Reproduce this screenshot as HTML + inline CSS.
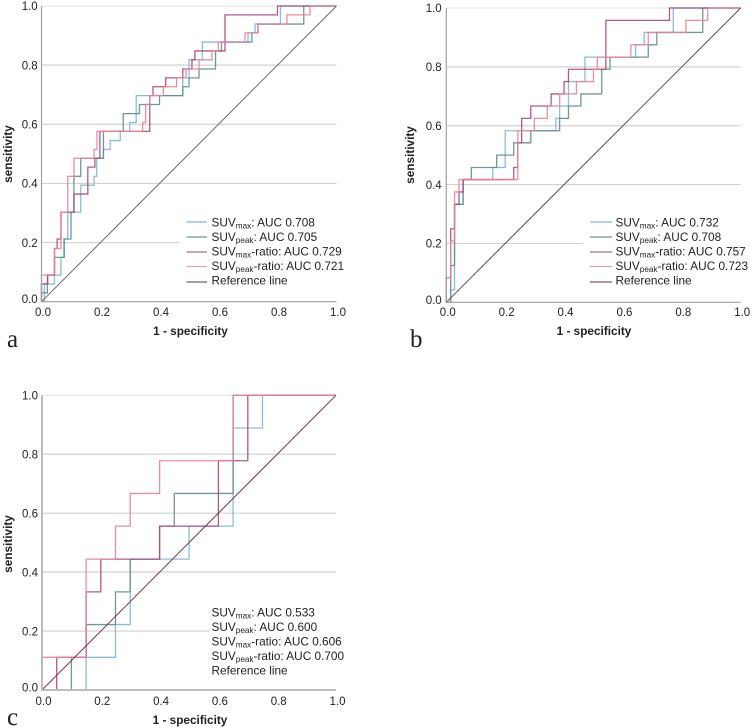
<!DOCTYPE html>
<html lang="en">
<head>
<meta charset="utf-8">
<title>ROC curves</title>
<style>
html,body{margin:0;padding:0;background:#fff}
svg{display:block;font-family:"Liberation Sans",sans-serif;filter:blur(0.3px)}
text{fill:#222}
</style>
</head>
<body>
<svg id="chart" width="752" height="728" viewBox="0 0 752 728" xmlns="http://www.w3.org/2000/svg">
  <rect width="752" height="728" fill="#fff"/>
  <g id="marks"></g>
  <g>
    <text x="7" y="347" font-family="Liberation Serif" font-size="25">a</text>
    <text transform="translate(12,154) rotate(-90)" text-anchor="middle" font-size="11.8" font-weight="bold">sensitivity</text>
    <text x="190.5" y="335" text-anchor="middle" font-size="11.8" font-weight="bold">1 - specificity</text>
    <g font-size="11.8">
      <line x1="186.5" x2="207" y1="222" y2="222" stroke="#85b8d8" stroke-width="1.2"/>
      <line x1="186.5" x2="207" y1="237" y2="237" stroke="#6f9494" stroke-width="1.2"/>
      <line x1="186.5" x2="207" y1="252" y2="252" stroke="#a5708e" stroke-width="1.2"/>
      <line x1="186.5" x2="207" y1="266.5" y2="266.5" stroke="#d8a2b2" stroke-width="1.2"/>
      <line x1="186.5" x2="207" y1="282" y2="282" stroke="#7d5a6c" stroke-width="1.2"/>
      <text x="211.5" y="226.5">SUV<tspan font-size="8.2" dy="2">max</tspan><tspan dy="-2">: AUC 0.708</tspan></text>
      <text x="211.5" y="241">SUV<tspan font-size="8.2" dy="2">peak</tspan><tspan dy="-2">: AUC 0.705</tspan></text>
      <text x="211.5" y="255.5">SUV<tspan font-size="8.2" dy="2">max</tspan><tspan dy="-2">-ratio: AUC 0.729</tspan></text>
      <text x="211.5" y="270">SUV<tspan font-size="8.2" dy="2">peak</tspan><tspan dy="-2">-ratio: AUC 0.721</tspan></text>
      <text x="211.5" y="284.5">Reference line</text>
    </g>
  </g>
  <g>
    <text x="410" y="347" font-family="Liberation Serif" font-size="25">b</text>
    <text transform="translate(414,155) rotate(-90)" text-anchor="middle" font-size="11.8" font-weight="bold">sensitivity</text>
    <text x="594" y="335" text-anchor="middle" font-size="11.8" font-weight="bold">1 - specificity</text>
    <g font-size="11.8">
      <line x1="590" x2="612" y1="222" y2="222" stroke="#85b8d8" stroke-width="1.2"/>
      <line x1="590" x2="612" y1="237" y2="237" stroke="#6f9494" stroke-width="1.2"/>
      <line x1="590" x2="612" y1="252" y2="252" stroke="#a5708e" stroke-width="1.2"/>
      <line x1="590" x2="612" y1="266.5" y2="266.5" stroke="#d8a2b2" stroke-width="1.2"/>
      <line x1="590" x2="612" y1="282" y2="282" stroke="#7d5a6c" stroke-width="1.2"/>
      <text x="615.5" y="226.5">SUV<tspan font-size="8.2" dy="2">max</tspan><tspan dy="-2">: AUC 0.732</tspan></text>
      <text x="615.5" y="241">SUV<tspan font-size="8.2" dy="2">peak</tspan><tspan dy="-2">: AUC 0.708</tspan></text>
      <text x="615.5" y="255.5">SUV<tspan font-size="8.2" dy="2">max</tspan><tspan dy="-2">-ratio: AUC 0.757</tspan></text>
      <text x="615.5" y="270">SUV<tspan font-size="8.2" dy="2">peak</tspan><tspan dy="-2">-ratio: AUC 0.723</tspan></text>
      <text x="615.5" y="284.5">Reference line</text>
    </g>
  </g>
  <g>
    <text x="7" y="725" font-family="Liberation Serif" font-size="25">c</text>
    <text transform="translate(12,544) rotate(-90)" text-anchor="middle" font-size="11.8" font-weight="bold">sensitivity</text>
    <text x="190" y="724" text-anchor="middle" font-size="11.8" font-weight="bold">1 - specificity</text>
    <g font-size="11.8">
      <text x="211.5" y="616.5">SUV<tspan font-size="8.2" dy="2">max</tspan><tspan dy="-2">: AUC 0.533</tspan></text>
      <text x="211.5" y="631">SUV<tspan font-size="8.2" dy="2">peak</tspan><tspan dy="-2">: AUC 0.600</tspan></text>
      <text x="211.5" y="645.5">SUV<tspan font-size="8.2" dy="2">max</tspan><tspan dy="-2">-ratio: AUC 0.606</tspan></text>
      <text x="211.5" y="660">SUV<tspan font-size="8.2" dy="2">peak</tspan><tspan dy="-2">-ratio: AUC 0.700</tspan></text>
      <text x="211.5" y="674.5">Reference line</text>
    </g>
  </g>
</svg>
<script>
// Tick labels shared by both axes
var tickValues = [0, 0.2, 0.4, 0.6, 0.8, 1.0];
var tickLabels = ['0.0', '0.2', '0.4', '0.6', '0.8', '1.0'];

// Panel a: each series lists the specificity where the curve rises and the sensitivity it rises to
var aMaxFpr = [0.01, 0.044, 0.066, 0.076, 0.089, 0.133, 0.178, 0.187, 0.21, 0.233, 0.267, 0.299, 0.321, 0.479, 0.5, 0.545, 0.7, 0.724, 0.81];
var aMaxTpr = [0.06, 0.09, 0.15, 0.212, 0.303, 0.394, 0.424, 0.485, 0.515, 0.545, 0.576, 0.606, 0.697, 0.757, 0.818, 0.878, 0.909, 0.939, 1.0];
var aPeakFpr = [0, 0.02, 0.044, 0.077, 0.1, 0.11, 0.133, 0.21, 0.277, 0.332, 0.4, 0.479, 0.5, 0.534, 0.59, 0.61, 0.713, 0.734, 0.889];
var aPeakTpr = [0.03, 0.09, 0.15, 0.212, 0.303, 0.424, 0.485, 0.576, 0.636, 0.667, 0.697, 0.727, 0.757, 0.787, 0.848, 0.878, 0.909, 0.939, 1.0];
var aMaxRatioFpr = [0, 0.021, 0.044, 0.053, 0.066, 0.11, 0.157, 0.181, 0.198, 0.367, 0.378, 0.421, 0.479, 0.51, 0.52, 0.622, 0.8];
var aMaxRatioTpr = [0.06, 0.09, 0.18, 0.212, 0.303, 0.364, 0.455, 0.485, 0.576, 0.697, 0.727, 0.757, 0.787, 0.818, 0.848, 0.97, 1.0];
var aPeakRatioFpr = [0, 0.044, 0.066, 0.089, 0.11, 0.178, 0.188, 0.343, 0.353, 0.367, 0.413, 0.458, 0.49, 0.534, 0.578, 0.599, 0.69, 0.734, 0.832, 0.91];
var aPeakRatioTpr = [0.09, 0.18, 0.303, 0.424, 0.485, 0.515, 0.576, 0.606, 0.667, 0.697, 0.727, 0.757, 0.787, 0.818, 0.848, 0.878, 0.909, 0.939, 0.97, 1.0];

// Panel b
var bMaxFpr = [0.015, 0.028, 0.057, 0.158, 0.2, 0.372, 0.385, 0.415, 0.471, 0.643, 0.672, 0.771];
var bMaxTpr = [0.042, 0.333, 0.417, 0.458, 0.583, 0.625, 0.667, 0.75, 0.833, 0.875, 0.917, 1.0];
var bPeakFpr = [0.015, 0.028, 0.057, 0.085, 0.171, 0.229, 0.287, 0.385, 0.415, 0.457, 0.528, 0.556, 0.686, 0.715, 0.871];
var bPeakTpr = [0.125, 0.333, 0.417, 0.458, 0.5, 0.542, 0.583, 0.625, 0.667, 0.708, 0.792, 0.833, 0.875, 0.917, 1.0];
var bMaxRatioFpr = [0, 0.015, 0.028, 0.043, 0.057, 0.229, 0.243, 0.256, 0.287, 0.356, 0.4, 0.415, 0.542, 0.758];
var bMaxRatioTpr = [0.083, 0.25, 0.333, 0.375, 0.417, 0.458, 0.542, 0.625, 0.667, 0.708, 0.75, 0.792, 0.958, 1.0];
var bPeakRatioFpr = [0, 0.015, 0.028, 0.043, 0.243, 0.299, 0.343, 0.385, 0.442, 0.5, 0.513, 0.627, 0.686, 0.814, 0.888];
var bPeakRatioTpr = [0.083, 0.208, 0.375, 0.417, 0.583, 0.625, 0.667, 0.708, 0.75, 0.792, 0.833, 0.875, 0.917, 0.958, 1.0];

// Panel c
var cMaxFpr = [0.15, 0.25, 0.3, 0.5, 0.65, 0.75];
var cMaxTpr = [0.111, 0.222, 0.444, 0.556, 0.889, 1.0];
var cPeakFpr = [0.1, 0.15, 0.25, 0.3, 0.4, 0.45, 0.65];
var cPeakTpr = [0.111, 0.222, 0.333, 0.444, 0.556, 0.667, 1.0];
var cMaxRatioFpr = [0.05, 0.15, 0.2, 0.4, 0.6, 0.7];
var cMaxRatioTpr = [0.111, 0.333, 0.444, 0.556, 0.778, 1.0];
var cPeakRatioFpr = [0, 0.15, 0.25, 0.3, 0.4, 0.65];
var cPeakRatioTpr = [0.111, 0.444, 0.556, 0.667, 0.778, 1.0];

var NS = 'http://www.w3.org/2000/svg';
var marks = document.getElementById('marks');

function make(tag, parent) {
  var el = document.createElementNS(NS, tag);
  parent.appendChild(el);
  return el;
}

function drawPanel(id, box, labelBox, grid02End, axisColor, axisWidth, refColor, series) {
  function sx(v) { return box.x0 + v * (box.x1 - box.x0); }
  function sy(v) { return box.y0 + v * (box.y1 - box.y0); }
  var g = make('g', marks);
  
  

  tickValues.forEach(function (t, i) {
    if (t > 0) {
      var gl = make('line', g);
      
      
      gl.setAttribute('x1', sx(0));
      gl.setAttribute('x2', t === 0.2 ? grid02End : sx(1));
      gl.setAttribute('y1', sy(t));
      gl.setAttribute('y2', sy(t));
      gl.setAttribute('stroke', t === 1 ? '#e6e6e6' : '#d2d2d2');
      gl.setAttribute('stroke-width', '1.2');
    }
    var yl = make('text', g);
    
    
    yl.setAttribute('x', labelBox.yRight);
    yl.setAttribute('y', sy(t) + (t === 0 ? 1.5 : 4.2));
    yl.setAttribute('text-anchor', 'end');
    yl.setAttribute('font-size', '11.5');
    yl.textContent = tickLabels[i];

    var xl = make('text', g);
    
    
    xl.setAttribute('x', sx(t) + 1.5);
    xl.setAttribute('y', labelBox.xBase);
    xl.setAttribute('text-anchor', 'middle');
    xl.setAttribute('font-size', '11.5');
    xl.textContent = tickLabels[i];
  });

  series.forEach(function (s) {
    var d = 'M' + sx(0) + ' ' + sy(0);
    var prev = 0;
    s.fpr.forEach(function (f, i) {
      d += 'L' + sx(f) + ' ' + sy(prev) + 'L' + sx(f) + ' ' + sy(s.tpr[i]);
      prev = s.tpr[i];
    });
    d += 'L' + sx(1) + ' ' + sy(prev);
    var p = make('path', g);
    
    
    p.setAttribute('d', d);
    p.setAttribute('fill', 'none');
    p.setAttribute('stroke', s.color);
    p.setAttribute('stroke-width', '1.3');
    p.setAttribute('stroke-opacity', '0.9');
  });

  var ref = make('line', g);
  
  
  ref.setAttribute('x1', sx(0));
  ref.setAttribute('y1', sy(0));
  ref.setAttribute('x2', sx(1));
  ref.setAttribute('y2', sy(1));
  ref.setAttribute('stroke', refColor);
  ref.setAttribute('stroke-width', '1');

  var ax = make('path', g);
  
  
  ax.setAttribute('d', 'M' + sx(0) + ' ' + sy(1) + 'L' + sx(0) + ' ' + sy(0) + 'L' + sx(1) + ' ' + sy(0));
  ax.setAttribute('fill', 'none');
  ax.setAttribute('stroke', axisColor);
  ax.setAttribute('stroke-width', axisWidth);
}

var BLUE = '#7db5da', GREEN = '#5f8e8b', PURPLE = '#a5497a', PINK = '#e88398';

drawPanel('a', { x0: 41.5, x1: 336.5, y0: 301.7, y1: 6 }, { yRight: 37.7, xBase: 316 }, 180, '#a0a0a0', 1.2, '#6a6a6a', [
  { name: 'suv-max', color: BLUE, fpr: aMaxFpr, tpr: aMaxTpr },
  { name: 'suv-peak', color: GREEN, fpr: aPeakFpr, tpr: aPeakTpr },
  { name: 'suv-max-ratio', color: PURPLE, fpr: aMaxRatioFpr, tpr: aMaxRatioTpr },
  { name: 'suv-peak-ratio', color: PINK, fpr: aPeakRatioFpr, tpr: aPeakRatioTpr }
]);
drawPanel('b', { x0: 446.3, x1: 740.7, y0: 302.3, y1: 8 }, { yRight: 441.7, xBase: 316 }, 583, '#a0a0a0', 1.2, '#555555', [
  { name: 'suv-max', color: BLUE, fpr: bMaxFpr, tpr: bMaxTpr },
  { name: 'suv-peak', color: GREEN, fpr: bPeakFpr, tpr: bPeakTpr },
  { name: 'suv-max-ratio', color: PURPLE, fpr: bMaxRatioFpr, tpr: bMaxRatioTpr },
  { name: 'suv-peak-ratio', color: PINK, fpr: bPeakRatioFpr, tpr: bPeakRatioTpr }
]);
drawPanel('c', { x0: 42, x1: 336, y0: 690, y1: 395.3 }, { yRight: 38, xBase: 705 }, 209, '#bcbcbc', 2, '#6b3a4c', [
  { name: 'suv-max', color: BLUE, fpr: cMaxFpr, tpr: cMaxTpr },
  { name: 'suv-peak', color: GREEN, fpr: cPeakFpr, tpr: cPeakTpr },
  { name: 'suv-max-ratio', color: PURPLE, fpr: cMaxRatioFpr, tpr: cMaxRatioTpr },
  { name: 'suv-peak-ratio', color: PINK, fpr: cPeakRatioFpr, tpr: cPeakRatioTpr }
]);
</script>
</body>
</html>
